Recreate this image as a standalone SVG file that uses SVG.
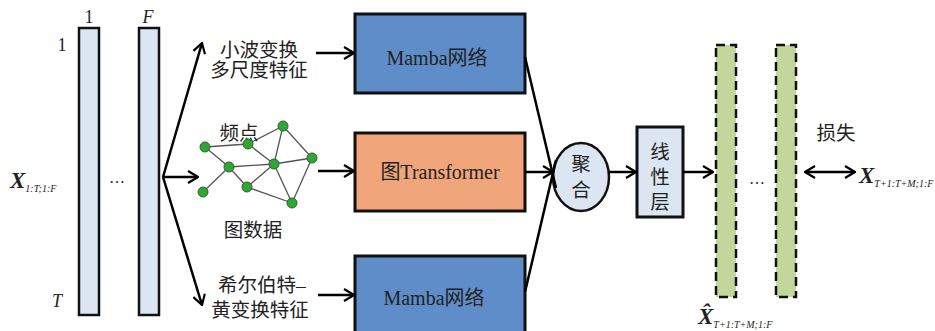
<svg xmlns="http://www.w3.org/2000/svg" width="935" height="331" viewBox="0 0 935 331">
<defs>
<marker id="ah" viewBox="0 0 12 14" refX="11" refY="7" markerWidth="12" markerHeight="14" markerUnits="userSpaceOnUse" orient="auto-start-reverse">
<path d="M1,1 L11,7 L1,13" fill="none" stroke="#000" stroke-width="2.2"/>
</marker>
<style>
.zh{font-family:"Liberation Serif","Noto Sans CJK SC",serif;font-size:19.5px;fill:#222;text-anchor:middle}
.en{font-family:"Liberation Serif","Noto Sans CJK SC",serif;font-size:20px;fill:#222;text-anchor:middle}
.it{font-family:"Liberation Serif",serif;font-style:italic;fill:#222}
.sub{font-size:10px;font-weight:normal}
.bx{stroke:#111;stroke-width:3}
.bar{fill:#DCE6F2;stroke:#111;stroke-width:2.5}
.gbar{fill:#C3D69B;stroke:#111;stroke-width:2.5;stroke-dasharray:9 5}
.ln{stroke:#000;stroke-width:2.5;fill:none}
.ge{stroke:#555;stroke-width:1.3}
.gn{fill:#33A33A;stroke:#1E6B25;stroke-width:1}
</style>
</defs>
<rect width="935" height="331" fill="#fff"/>

<g id="input">
<rect class="bar" x="79" y="28" width="20" height="287"/>
<rect class="bar" x="139" y="28" width="20" height="287"/>
<text x="89" y="23" class="en" style="font-size:18px">1</text>
<text x="148" y="23" class="it" style="font-size:18px" text-anchor="middle">F</text>
<text x="62" y="51" class="en" style="font-size:18px">1</text>
<text x="57" y="307" class="it" style="font-size:18px" text-anchor="middle">T</text>
<text x="117" y="183" class="en" style="font-size:16px">…</text>
<text x="10" y="188" class="it" style="font-size:23px;font-weight:bold">X<tspan dy="4" class="sub">1:T;1:F</tspan></text>
</g>

<g id="wavelet">
<text x="259" y="57" class="zh">小波变换</text>
<text x="259" y="77" class="zh">多尺度特征</text>
</g>

<g id="graph">
<g class="ge">
<line x1="205" y1="147" x2="248" y2="144"/>
<line x1="205" y1="147" x2="229" y2="167"/>
<line x1="248" y1="144" x2="283" y2="126"/>
<line x1="248" y1="144" x2="274" y2="164"/>
<line x1="283" y1="126" x2="274" y2="164"/>
<line x1="283" y1="126" x2="312" y2="158"/>
<line x1="274" y1="164" x2="312" y2="158"/>
<line x1="229" y1="167" x2="274" y2="164"/>
<line x1="229" y1="167" x2="203" y2="192"/>
<line x1="229" y1="167" x2="247" y2="187"/>
<line x1="247" y1="187" x2="274" y2="164"/>
<line x1="247" y1="187" x2="292" y2="203"/>
<line x1="274" y1="164" x2="292" y2="203"/>
<line x1="312" y1="158" x2="292" y2="203"/>
</g>
<text x="239" y="140" class="zh">频点</text>
<g class="gn">
<circle cx="205" cy="147" r="5"/>
<circle cx="248" cy="144" r="5"/>
<circle cx="283" cy="126" r="5"/>
<circle cx="312" cy="158" r="5"/>
<circle cx="274" cy="164" r="5"/>
<circle cx="229" cy="167" r="5"/>
<circle cx="203" cy="192" r="5"/>
<circle cx="247" cy="187" r="5"/>
<circle cx="292" cy="203" r="5"/>
</g>
<text x="253" y="237" class="zh">图数据</text>
</g>

<g id="hilbert">
<text x="262" y="292" class="zh">希尔伯特–</text>
<text x="260" y="317" class="zh">黄变换特征</text>
</g>

<g id="mamba1">
<rect class="bx" x="355" y="14" width="170" height="79" fill="#5F8DC9"/>
<text x="437" y="65" class="en">Mamba网络</text>
</g>
<g id="transformer">
<rect class="bx" x="355" y="133" width="170" height="78" fill="#F0A67A"/>
<text x="440" y="179" class="en">图Transformer</text>
</g>
<g id="mamba2">
<rect class="bx" x="355" y="256" width="170" height="80" fill="#5F8DC9"/>
<text x="434" y="305" class="en">Mamba网络</text>
</g>

<g id="aggregate">
<ellipse cx="581" cy="177" rx="28" ry="34" fill="#DCE6F2" stroke="#111" stroke-width="2.5"/>
<text x="581" y="171" class="zh">聚</text>
<text x="581" y="197" class="zh">合</text>
</g>

<g id="linear">
<rect class="bx" x="637" y="127" width="46" height="90" fill="#DCE6F2"/>
<text x="660" y="159" class="zh">线</text>
<text x="660" y="184" class="zh">性</text>
<text x="660" y="209" class="zh">层</text>
</g>

<g id="output">
<rect class="gbar" x="716" y="45" width="20" height="252"/>
<rect class="gbar" x="776" y="45" width="20" height="252"/>
<text x="757" y="184" class="en" style="font-size:16px">…</text>
<text x="698" y="324" class="it" style="font-size:23px;font-weight:bold">X̂<tspan dy="4" class="sub">T+1:T+M;1:F</tspan></text>
</g>

<g id="target">
<text x="836" y="140" class="zh">损失</text>
<text x="859" y="183" class="it" style="font-size:23px;font-weight:bold">X<tspan dy="4" class="sub">T+1:T+M;1:F</tspan></text>
</g>

<g id="connectors">
<line class="ln" x1="163" y1="177" x2="202" y2="43" marker-end="url(#ah)"/>
<line class="ln" x1="163" y1="177" x2="198" y2="177" marker-end="url(#ah)"/>
<line class="ln" x1="163" y1="177" x2="202" y2="305" marker-end="url(#ah)"/>
<line class="ln" x1="316" y1="53" x2="354" y2="53" marker-end="url(#ah)"/>
<line class="ln" x1="318" y1="171" x2="354" y2="171" marker-end="url(#ah)"/>
<line class="ln" x1="318" y1="295" x2="354" y2="295" marker-end="url(#ah)"/>
<line class="ln" x1="525" y1="57" x2="556" y2="188"/>
<line class="ln" x1="525" y1="292" x2="556" y2="160"/>
<line class="ln" x1="525" y1="172" x2="553" y2="172" marker-end="url(#ah)"/>
<line class="ln" x1="609" y1="172" x2="636" y2="172" marker-end="url(#ah)"/>
<line class="ln" x1="683" y1="172" x2="713" y2="172" marker-end="url(#ah)"/>
<line class="ln" x1="805" y1="172" x2="855" y2="172" marker-start="url(#ah)" marker-end="url(#ah)"/>
</g>
</svg>
